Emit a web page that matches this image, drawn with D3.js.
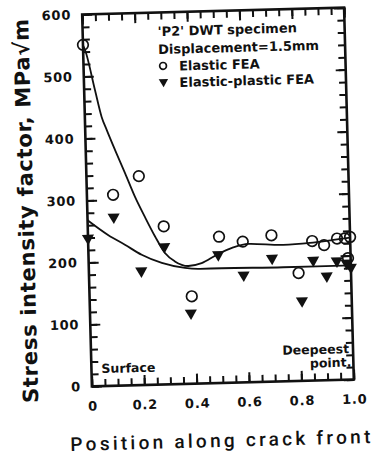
<!DOCTYPE html>
<html>
<head>
<meta charset="utf-8">
<script src="https://cdn.jsdelivr.net/npm/d3@7"></script>
<style>
  body { margin: 0; background: #fff; }
  svg { display: block; }
</style>
</head>
<body>
<div id="chart"></div>
<script>
// values
const elasticX = [0, 0.1, 0.2, 0.29, 0.39, 0.5, 0.59, 0.7, 0.8, 0.855, 0.9, 0.95, 0.98, 1.0, 0.99];
const elasticK = [551, 308, 337, 255, 141, 236, 227, 236, 174, 225, 218, 228, 228, 230, 196];

const plasticX = [0, 0.1, 0.2, 0.29, 0.385, 0.495, 0.59, 0.7, 0.81, 0.857, 0.907, 0.947, 0.984, 1.0];
const plasticK = [239, 272, 184, 222, 114, 207, 173, 199, 129, 194, 168, 192, 188, 181];

// fitted curves
const elasticFitX = [0, 0.007, 0.041, 0.064, 0.082, 0.112, 0.148, 0.183, 0.219, 0.256, 0.292, 0.329, 0.38, 0.431, 0.49, 0.553, 0.611, 0.744, 0.846, 0.936, 1.0];
const elasticFitK = [550, 543, 478, 434, 413, 380, 342, 304, 271, 239, 212, 198, 190, 194, 207, 218, 223, 220, 222, 226, 229];
const plasticFitX = [0, 0.078, 0.14, 0.203, 0.279, 0.367, 0.424, 0.507, 0.742, 1.0];
const plasticFitK = [268, 243, 227, 210, 196, 187, 185, 185, 184, 184];

const yTickValues = [0, 100, 200, 300, 400, 500, 600];
const xTickValues = [0, 0.2, 0.4, 0.6, 0.8, 1.0];
const xTickLabels = ['0', '0.2', '0.4', '0.6', '0.8', '1.0'];

const legendTitle = ["'P2' DWT specimen", 'Displacement=1.5mm'];
const seriesNames = ['Elastic FEA', 'Elastic-plastic FEA'];

const W = 385, H = 459;
const frame = {left: 87, right: 349, top: 11, bottom: 383};
const ink = '#111';

const svg = d3.select('#chart').append('svg')
  .attr('width', W)
  .attr('height', H);

// the scan is slightly tilted
const root = svg.append('g')
  .attr('transform', 'rotate(-1.5, 218, 197)');

const x = d3.scaleLinear().domain([0, 1]).range([frame.left, frame.right]);
const y = d3.scaleLinear().domain([0, 600]).range([frame.bottom, frame.top]);

const font = 'DejaVu Sans, Verdana, sans-serif';

// minor ticks
const yMinor = d3.range(0, 601, 20);
const xMinor = d3.range(0, 1.0001, 0.05);

function addAxis(axis, tx, ty, cls) {
  const g = root.append('g')
    .attr('class', cls)
    .attr('transform', `translate(${tx}, ${ty})`)
    .call(axis);
  g.attr('font-family', font)
    .attr('font-size', 13)
    .attr('font-weight', 'bold');
  g.select('.domain').remove();
  g.selectAll('.tick line').attr('stroke', ink).attr('stroke-width', 2);
  g.selectAll('.tick text').attr('fill', ink).attr('letter-spacing', 0.8);
  return g;
}

addAxis(d3.axisLeft(y).tickValues(yMinor).tickSize(-7).tickFormat(''), frame.left, 0, 'axis-y-minor');
addAxis(d3.axisRight(y).tickValues(yMinor).tickSize(-7).tickFormat(''), frame.right, 0, 'axis-y-minor-r');
addAxis(d3.axisBottom(x).tickValues(xMinor).tickSize(-7).tickFormat(''), 0, frame.bottom, 'axis-x-minor');
addAxis(d3.axisTop(x).tickValues(xMinor).tickSize(-7).tickFormat(''), 0, frame.top, 'axis-x-minor-t');

addAxis(d3.axisLeft(y).tickValues(yTickValues).tickSize(-10).tickPadding(11), frame.left, 0, 'axis-y');
addAxis(d3.axisRight(y).tickValues(yTickValues).tickSize(-10).tickFormat(''), frame.right, 0, 'axis-y-r');
addAxis(d3.axisBottom(x).tickValues(xTickValues).tickSize(-10).tickPadding(15)
  .tickFormat((d, i) => xTickLabels[i]), 0, frame.bottom, 'axis-x');
addAxis(d3.axisTop(x).tickValues(xTickValues).tickSize(-10).tickFormat(''), 0, frame.top, 'axis-x-t');

// frame
root.append('rect')
  .attr('x', frame.left)
  .attr('y', frame.top)
  .attr('width', frame.right - frame.left)
  .attr('height', frame.bottom - frame.top)
  .attr('fill', 'none')
  .attr('stroke', ink)
  .attr('stroke-width', 2.6);

// fitted lines
const line = d3.line()
  .x(d => x(d[0]))
  .y(d => y(d[1]))
  .curve(d3.curveMonotoneX);

root.append('path')
  .datum(d3.zip(elasticFitX, elasticFitK))
  .attr('class', 'line')
  .attr('fill', 'none')
  .attr('stroke', ink)
  .attr('stroke-width', 1.8)
  .attr('d', line);

root.append('path')
  .datum(d3.zip(plasticFitX, plasticFitK))
  .attr('class', 'line')
  .attr('fill', 'none')
  .attr('stroke', ink)
  .attr('stroke-width', 1.8)
  .attr('d', line);

// points
root.selectAll('.elastic')
  .data(d3.zip(elasticX, elasticK))
  .join('circle')
  .attr('class', 'elastic')
  .attr('cx', d => x(d[0]))
  .attr('cy', d => y(d[1]))
  .attr('r', 5.3)
  .attr('fill', 'none')
  .attr('stroke', ink)
  .attr('stroke-width', 1.7);

const tri = d3.symbol(d3.symbolTriangle, 64);
root.selectAll('.plastic')
  .data(d3.zip(plasticX, plasticK))
  .join('path')
  .attr('class', 'plastic')
  .attr('transform', d => `translate(${x(d[0])}, ${y(d[1])}) rotate(180)`)
  .attr('d', tri)
  .attr('fill', ink);

// legend
const legend = root.append('g')
  .attr('font-family', font)
  .attr('font-size', 13)
  .attr('font-weight', 'bold')
  .attr('fill', ink);

legendTitle.forEach((t, i) => {
  legend.append('text')
    .attr('x', 162)
    .attr('y', 34.5 + i * 18)
    .text(t);
});

legend.append('circle')
  .attr('cx', 166.5)
  .attr('cy', 64.5)
  .attr('r', 3.4)
  .attr('fill', 'none')
  .attr('stroke', ink)
  .attr('stroke-width', 1.7);
legend.append('path')
  .attr('transform', 'translate(166.5, 80.5) rotate(180)')
  .attr('d', d3.symbol(d3.symbolTriangle, 38))
  .attr('fill', ink);

seriesNames.forEach((t, i) => {
  legend.append('text')
    .attr('x', 182.5)
    .attr('y', 69.5 + i * 16.5)
    .text(t);
});

// annotations
const notes = root.append('g')
  .attr('font-family', font)
  .attr('font-size', 12.5)
  .attr('font-weight', 'bold')
  .attr('fill', ink);

notes.append('text').attr('x', 97).attr('y', 370).text('Surface');
notes.append('text').attr('x', 345).attr('y', 356.5).attr('text-anchor', 'end').text('Deepeest');
notes.append('text').attr('x', 347).attr('y', 370).attr('text-anchor', 'end').text('point.');

// axis titles
root.append('text')
  .attr('transform', 'translate(33, 206) rotate(-90)')
  .attr('text-anchor', 'middle')
  .attr('font-family', font)
  .attr('font-size', 21)
  .attr('font-weight', 'bold')
  .attr('fill', ink)
  .attr('textLength', 384)
  .attr('lengthAdjust', 'spacing')
  .text('Stress intensity factor, MPa\u221Am');

root.append('text')
  .attr('x', 214)
  .attr('y', 447)
  .attr('text-anchor', 'middle')
  .attr('font-family', 'Roboto, DejaVu Sans, sans-serif')
  .attr('font-size', 19)
  .attr('font-weight', 500)
  .attr('fill', ink)
  .attr('textLength', 300)
  .attr('lengthAdjust', 'spacing')
  .text('Position along crack front');
</script>
</body>
</html>
